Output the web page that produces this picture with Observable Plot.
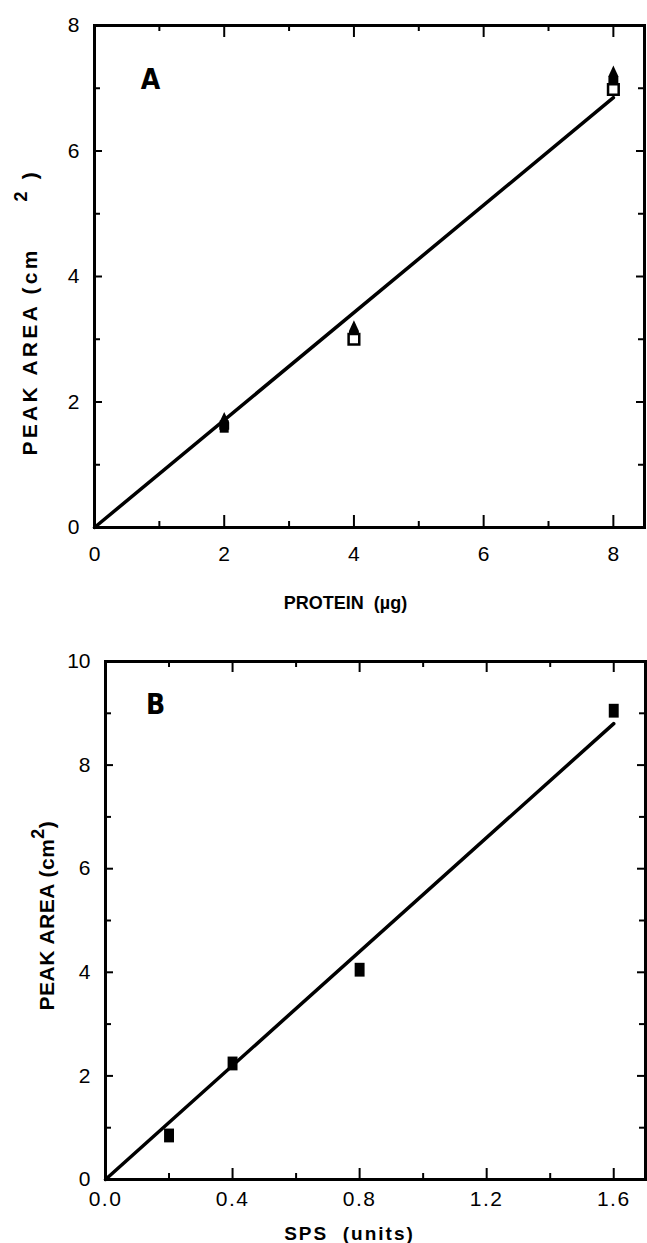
<!DOCTYPE html>
<html><head><meta charset="utf-8">
<script src="https://cdn.jsdelivr.net/npm/d3@7"></script>
<script src="https://cdn.jsdelivr.net/npm/@observablehq/plot@0.6"></script>
<style>
body{margin:0;background:#fff;}
#wrap{width:647px;}
#wrap svg{display:block;}
</style></head><body><div id="wrap"></div>
<script>
// ---------- Panel A data ----------
const aLetter = ["A"];
const aXTitle = ["PROTEIN  (\u00b5g)"];
const aYTitleParts = ["PEAK AREA (cm\u00a0\u00a0\u00a0\u00a0\u00a0", "2", "\u00a0)"];
const aFilledSquareX = [2];
const aFilledSquareY = [1.61];
const aOpenSquareX = [4, 8];
const aOpenSquareY = [3.0, 6.98];
const aTriangleX = [2, 4, 8];
const aTriangleY = [1.70, 3.16, 7.22];
const aFitX = [0, 8];
const aFitY = [0, 6.85];
const aMajorX = [0, 2, 4, 6, 8];
const aMinorX = [1, 3, 5, 7];
const aMajorY = [0, 2, 4, 6, 8];
const aMinorY = [1, 3, 5, 7];

// ---------- Panel B data ----------
const bLetter = ["B"];
const bXTitle = ["SPS  (units)"];
const bYTitleParts = ["PEAK AREA (cm", "2", ")"];
const bSquareX = [0.2, 0.4, 0.8, 1.6];
const bSquareY = [0.85, 2.24, 4.05, 9.05];
const bFitX = [0, 1.6];
const bFitY = [0, 8.8];
const bMajorX = [0, 0.4, 0.8, 1.2, 1.6];
const bMinorX = [0.2, 0.6, 1.0, 1.4];
const bMajorY = [0, 2, 4, 6, 8, 10];
const bMinorY = [1, 3, 5, 7, 9];

const FONT = "'Liberation Sans', Arial, Helvetica, sans-serif";

// custom marker shapes (style only)
const tallRect = {draw(ctx, size) { const s = Math.sqrt(size); const w = 0.56 * s, h = 0.78 * s; ctx.rect(-w / 2, -h / 2, w, h); }};
const openRect = {draw(ctx, size) { const s = Math.sqrt(size); const w = 0.6 * s, h = 0.6 * s; ctx.rect(-w / 2, -h / 2, w, h); }};
const bullet = {draw(ctx, size) { const s = Math.sqrt(size); const w = 0.28 * s, h = 0.5 * s;
  ctx.moveTo(0, -h); ctx.lineTo(w, h * 0.2); ctx.lineTo(w, h); ctx.lineTo(-w, h); ctx.lineTo(-w, h * 0.2); ctx.closePath(); }};

function pts(xs, ys) { return xs.map((x, i) => ({x, y: ys[i]})); }

// inward ticks as short rules (frame inner size W x H)
function tickRules(values, anchor, len, W, H) {
  const base = {stroke: "black", strokeWidth: 2};
  if (anchor === "bottom") return Plot.ruleX(values, {x: d => d, insetTop: H - len, ...base});
  if (anchor === "top") return Plot.ruleX(values, {x: d => d, insetBottom: H - len, ...base});
  if (anchor === "left") return Plot.ruleY(values, {y: d => d, insetRight: W - len, ...base});
  return Plot.ruleY(values, {y: d => d, insetLeft: W - len, ...base});
}

function axesMarks(majorX, minorX, majorY, minorY, fmtX, xPad, xTickLen, W, H) {
  return [
    Plot.axisX(majorX, {anchor: "bottom", tickSize: 0, tickPadding: xPad, tickFormat: fmtX, fontSize: 21, label: null}),
    Plot.axisY(majorY, {anchor: "left", tickSize: 0, tickPadding: 15, tickFormat: d3.format("d"), fontSize: 21, label: null}),
    tickRules(majorX, "bottom", xTickLen, W, H),
    tickRules(minorX, "bottom", 6, W, H),
    tickRules(majorX, "top", xTickLen, W, H),
    tickRules(minorX, "top", 6, W, H),
    tickRules(majorY, "left", 8, W, H),
    tickRules(minorY, "left", 6, W, H),
    tickRules(majorY, "right", 8, W, H),
    tickRules(minorY, "right", 6, W, H)
  ];
}

// ---------- Panel A ----------
const A = {width: 647, height: 640, ml: 94, mr: 3, mt: 25, mb: 113};
const chartA = Plot.plot({
  width: A.width, height: A.height,
  marginLeft: A.ml, marginRight: A.mr, marginTop: A.mt, marginBottom: A.mb,
  style: {fontFamily: FONT, color: "black", background: "white", overflow: "visible"},
  x: {domain: [0, 8.48]},
  y: {domain: [0, 8]},
  marks: [
    Plot.frame({stroke: "black", fill: "none", strokeWidth: 3}),
    ...axesMarks(aMajorX, aMinorX, aMajorY, aMinorY, d3.format("d"), 19, 12,
      A.width - A.ml - A.mr, A.height - A.mt - A.mb),
    Plot.line(pts(aFitX, aFitY), {x: "x", y: "y", stroke: "black", strokeWidth: 3.5}),
    Plot.dot(pts(aFilledSquareX, aFilledSquareY), {x: "x", y: "y", symbol: tallRect, r: 9, fill: "black", stroke: "none"}),
    Plot.dot(pts(aTriangleX, aTriangleY), {x: "x", y: "y", symbol: bullet, r: 10, fill: "black", stroke: "none"}),
    Plot.dot(pts(aOpenSquareX, aOpenSquareY), {x: "x", y: "y", symbol: openRect, r: 10, fill: "white", stroke: "black", strokeWidth: 2.5}),
    Plot.text(aLetter, {frameAnchor: "top-left", dx: 56, dy: 55, text: d => d, fontSize: 28, fontWeight: "bold", fontFamily: "'Liberation Sans Narrow', 'DejaVu Sans Condensed', sans-serif", textAnchor: "middle", lineAnchor: "middle"}),
    Plot.text(aXTitle, {frameAnchor: "bottom", dx: -24, dy: 76, text: d => d, fontSize: 18, fontWeight: "bold", textAnchor: "middle", lineAnchor: "middle"}),
    Plot.text([aYTitleParts.join("")], {frameAnchor: "left", dx: -64, dy: 179, rotate: -90, text: d => d, fontSize: 21, fontWeight: "bold", textAnchor: "start", lineAnchor: "middle"})
  ]
});

// ---------- Panel B ----------
const B = {width: 647, height: 603, ml: 105, mr: 2, mt: 21, mb: 64};
const chartB = Plot.plot({
  width: B.width, height: B.height,
  marginLeft: B.ml, marginRight: B.mr, marginTop: B.mt, marginBottom: B.mb,
  style: {fontFamily: FONT, color: "black", background: "white", overflow: "visible"},
  x: {domain: [0, 1.70]},
  y: {domain: [0, 10]},
  marks: [
    Plot.frame({stroke: "black", fill: "none", strokeWidth: 3}),
    ...axesMarks(bMajorX, bMinorX, bMajorY, bMinorY, d3.format(".1f"), 12, 11,
      B.width - B.ml - B.mr, B.height - B.mt - B.mb),
    Plot.line(pts(bFitX, bFitY), {x: "x", y: "y", stroke: "black", strokeWidth: 3.5}),
    Plot.dot(pts(bSquareX, bSquareY), {x: "x", y: "y", symbol: tallRect, r: 10, fill: "black", stroke: "none"}),
    Plot.text(bLetter, {frameAnchor: "top-left", dx: 50, dy: 44, text: d => d, fontSize: 28, fontWeight: "bold", fontFamily: "'Liberation Sans Narrow', 'DejaVu Sans Condensed', sans-serif", textAnchor: "middle", lineAnchor: "middle"}),
    Plot.text(bXTitle, {frameAnchor: "bottom", dx: -26, dy: 54, text: d => d, fontSize: 19, fontWeight: "bold", textAnchor: "middle", lineAnchor: "middle"}),
    Plot.text([bYTitleParts.join("")], {frameAnchor: "left", dx: -58, dy: 90, rotate: -90, text: d => d, fontSize: 21, fontWeight: "bold", textAnchor: "start", lineAnchor: "middle"})
  ]
});

const wrap = document.getElementById("wrap");
wrap.appendChild(chartA);
wrap.appendChild(chartB);

// text tweaks, matched by text content
function spacing(svg, str, px) {
  svg.querySelectorAll("text").forEach(t => { if (t.textContent === str) t.style.letterSpacing = px; });
}
// superscript: rebuild title text as tspans
function superscript(svg, parts, px) {
  const full = parts.join("");
  svg.querySelectorAll("text").forEach(t => {
    if (t.textContent !== full) return;
    const ns = "http://www.w3.org/2000/svg";
    t.textContent = "";
    t.style.letterSpacing = px;
    const s1 = document.createElementNS(ns, "tspan"); s1.textContent = parts[0];
    const s2 = document.createElementNS(ns, "tspan"); s2.textContent = parts[1];
    s2.setAttribute("baseline-shift", "super"); s2.setAttribute("font-size", "18");
    const s3 = document.createElementNS(ns, "tspan"); s3.textContent = parts[2];
    t.append(s1, s2, s3);
  });
}
superscript(chartA, aYTitleParts, "3.3px");
superscript(chartB, bYTitleParts, "0.5px");
spacing(chartB, bXTitle[0], "2px");
bMajorX.forEach(v => spacing(chartB, d3.format(".1f")(v), "1.5px"));
</script></body></html>
